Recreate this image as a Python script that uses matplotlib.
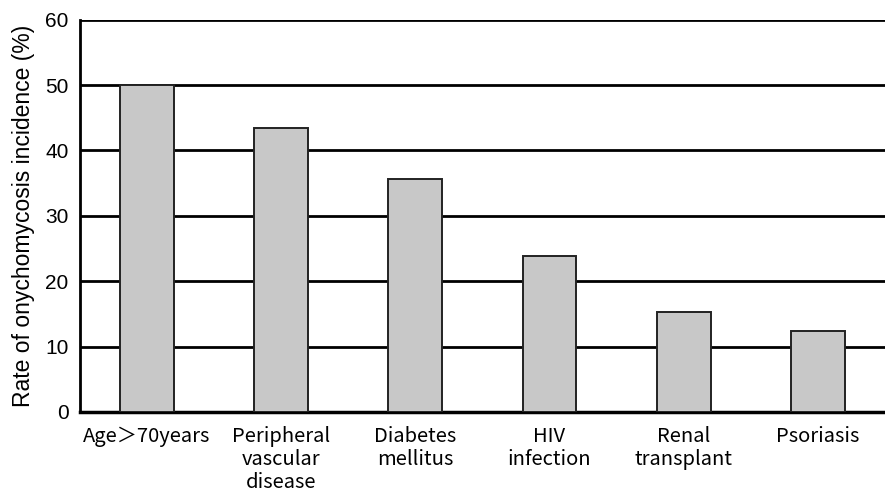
import matplotlib.pyplot as plt
import numpy as np

categories = ["Age＞70years", "Peripheral\nvascular\ndisease", "Diabetes\nmellitus",
              "HIV\ninfection", "Renal\ntransplant", "Psoriasis"]
rates = [50.0, 43.5, 35.7, 23.9, 15.3, 12.4]
yticks = [0, 10, 20, 30, 40, 50, 60]

fig = plt.figure(figsize=(8.85, 4.95), dpi=100)
ax = fig.add_axes([0.09, 0.168, 0.91, 0.792])

x = np.arange(len(categories))
ax.bar(x, rates, width=0.4, color="#c8c8c8", edgecolor="#222222", linewidth=1.4, zorder=3)

for y in yticks[1:]:
    ax.axhline(y, color="black", linewidth=2, zorder=1)

ax.set_xlim(-0.5, len(categories) - 0.5)
ax.set_ylim(0, 60)
ax.set_yticks(yticks)
ax.set_yticklabels([str(v) for v in yticks], family="Liberation Sans", fontsize=15)
ax.set_xticks(x)
ax.set_xticklabels(categories, family=["Noto Sans CJK JP", "DejaVu Sans"], fontsize=14.5,
                   va="top", linespacing=1.12)
ax.tick_params(axis="y", length=0, pad=8)
ax.tick_params(axis="x", length=0, pad=10)

for s in ["top", "right"]:
    ax.spines[s].set_visible(False)
ax.spines["left"].set_linewidth(2)
ax.spines["bottom"].set_linewidth(2.5)

ax.set_ylabel("Rate of onychomycosis incidence (%)", family="Liberation Sans", fontsize=16.5, labelpad=7)

fig.savefig("out.png", dpi=100)
